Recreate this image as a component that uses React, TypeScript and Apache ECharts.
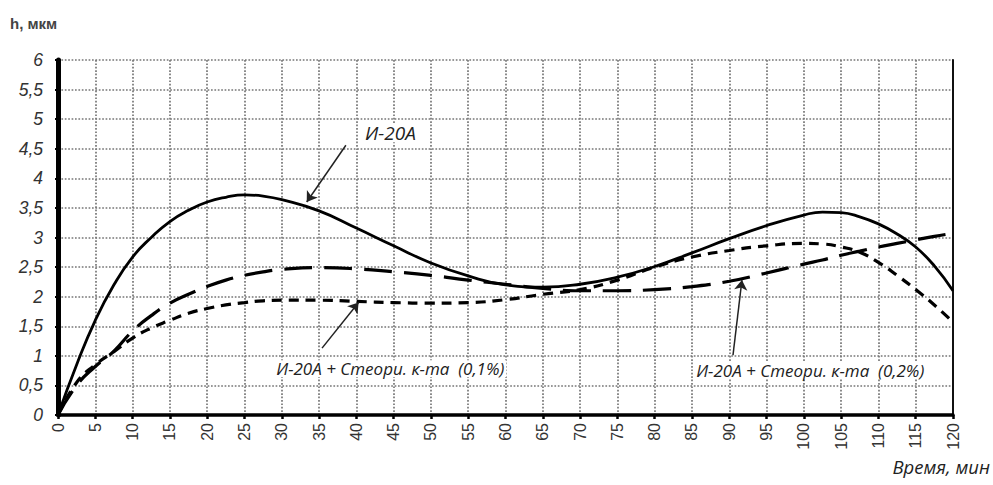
import React, { useEffect, useRef } from 'react';
import * as echarts from 'echarts';

// Time, min
const timeMin = [0, 2.5, 5, 7.5, 10, 12.5, 15, 17.5, 20, 22.5, 25, 27.5, 30, 35, 40, 45, 50, 55, 60, 65, 70, 75, 80, 85, 90, 95, 100, 102.5, 105, 107.5, 110, 112.5, 115, 117.5, 120];
// h, µm
const i20a = [0, 0.85, 1.6, 2.2, 2.67, 3.0, 3.27, 3.46, 3.6, 3.68, 3.72, 3.7, 3.64, 3.45, 3.16, 2.86, 2.57, 2.35, 2.2, 2.16, 2.21, 2.33, 2.51, 2.74, 2.98, 3.2, 3.38, 3.43, 3.42, 3.35, 3.23, 3.06, 2.84, 2.52, 2.1];
const i20aSt01 = [0, 0.55, 0.85, 1.07, 1.3, 1.47, 1.6, 1.72, 1.8, 1.86, 1.9, 1.93, 1.94, 1.94, 1.92, 1.9, 1.89, 1.9, 1.95, 2.04, 2.12, 2.28, 2.5, 2.67, 2.78, 2.86, 2.9, 2.89, 2.84, 2.75, 2.58, 2.36, 2.12, 1.86, 1.57];
const i20aSt02 = [0, 0.5, 0.82, 1.08, 1.42, 1.68, 1.89, 2.04, 2.17, 2.28, 2.36, 2.42, 2.46, 2.49, 2.47, 2.42, 2.36, 2.28, 2.21, 2.14, 2.1, 2.1, 2.12, 2.17, 2.26, 2.4, 2.55, 2.62, 2.7, 2.77, 2.84, 2.9, 2.96, 3.02, 3.07];

const seriesNames = ['И-20А', 'И-20А + Стеори. к-та  (0,1%)', 'И-20А + Стеори. к-та  (0,2%)'];

// annotation anchors (data coordinates): [fromX, fromY, toX, toY]
const arrowI20a = [38.6, 4.56, 33.35, 3.6];
const arrowSt01 = [35.4, 1.13, 40.3, 1.9];
const arrowSt02 = [90.5, 1.01, 91.7, 2.28];
// label anchors (data coordinates): [x, y]
const labelI20a = [40.9, 4.77];
const labelSt01 = [29.0, 0.78];
const labelSt02 = [85.3, 0.76];

const xTitle = 'Время, мин';
const yTitle = 'h, мкм';

const toPairs = (ys: number[]) => ys.map((y, i) => [timeMin[i], y]);

const annotation = (arrow: number[], label: number[], text: string, fontSize: number) => ({
  markLine: {
    silent: true,
    symbol: ['none', 'arrow'],
    symbolSize: 10,
    lineStyle: { type: 'solid', color: '#222', width: 1.5 },
    itemStyle: { color: '#222' },
    label: { show: false },
    data: [[{ coord: [arrow[0], arrow[1]] }, { coord: [arrow[2], arrow[3]] }]],
  },
  markPoint: {
    silent: true,
    symbol: 'circle',
    symbolSize: 0,
    label: {
      show: true,
      position: 'right',
      distance: 0,
      formatter: text,
      fontStyle: 'italic',
      fontFamily: 'Open Sans',
      fontSize,
      color: '#222',
      backgroundColor: '#fff',
      padding: [0, 2],
    },
    data: [{ coord: label }],
  },
});

export default function App() {
  const ref = useRef<HTMLDivElement>(null);
  useEffect(() => {
    if (!ref.current) return;
    const chart = echarts.init(ref.current, null, { renderer: 'svg' });
    const splitLine = { show: true, lineStyle: { type: 'dotted', color: '#777', width: 1.7 } };
    chart.setOption({
      animation: false,
      backgroundColor: '#fff',
      grid: { left: 58, right: 40, top: 60, bottom: 70 },
      graphic: [
        {
          type: 'text',
          left: 10,
          top: 16,
          style: { text: yTitle, font: 'bold 15px "Liberation Sans"', fill: '#444' },
        },
        {
          type: 'text',
          right: 3,
          top: 457,
          style: { text: xTitle, font: 'italic 18.5px "Open Sans"', fill: '#222' },
        },
      ],
      xAxis: {
        type: 'value',
        min: 0,
        max: 120,
        interval: 5,
        axisLine: { show: true, onZero: false, lineStyle: { color: '#000', width: 3.5 } },
        axisTick: { show: true, length: 4, lineStyle: { color: '#000', width: 2.5 } },
        axisLabel: { rotate: 90, fontSize: 16, color: '#333', fontFamily: 'Liberation Sans', margin: 8 },
        splitLine,
      },
      yAxis: [
        {
          type: 'value',
          min: 0,
          max: 6,
          interval: 0.5,
          axisLine: { show: true, onZero: false, lineStyle: { color: '#000', width: 5 } },
          axisTick: { show: true, length: 3, lineStyle: { color: '#000', width: 2 } },
          axisLabel: {
            fontSize: 17.5,
            fontStyle: 'italic',
            fontFamily: 'Liberation Sans',
            color: '#333',
            margin: 15,
            formatter: (v: number) => String(v).replace('.', ','),
          },
          splitLine,
        },
        {
          type: 'value',
          min: 0,
          max: 6,
          interval: 0.5,
          position: 'right',
          axisLine: { show: true, onZero: false, lineStyle: { color: '#111', width: 2 } },
          axisTick: { show: false },
          axisLabel: { show: false },
          splitLine: { show: false },
        },
      ],
      series: [
        {
          name: seriesNames[0],
          type: 'line',
          data: toPairs(i20a),
          smooth: true,
          showSymbol: false,
          lineStyle: { color: '#000', width: 2.8, type: 'solid' },
          z: 5,
          ...annotation(arrowI20a, labelI20a, seriesNames[0], 19),
        },
        {
          name: seriesNames[1],
          type: 'line',
          data: toPairs(i20aSt01),
          smooth: true,
          showSymbol: false,
          lineStyle: { color: '#000', width: 3.2, type: [10, 7] },
          z: 4,
          ...annotation(arrowSt01, labelSt01, seriesNames[1], 17),
        },
        {
          name: seriesNames[2],
          type: 'line',
          data: toPairs(i20aSt02),
          smooth: true,
          showSymbol: false,
          lineStyle: { color: '#000', width: 3.2, type: [28, 12] },
          z: 4,
          ...annotation(arrowSt02, labelSt02, seriesNames[2], 17),
        },
      ],
    });
    return () => chart.dispose();
  }, []);
  return <div ref={ref} style={{ position: 'absolute', left: 0, top: 0, width: 993, height: 485 }} />;
}
